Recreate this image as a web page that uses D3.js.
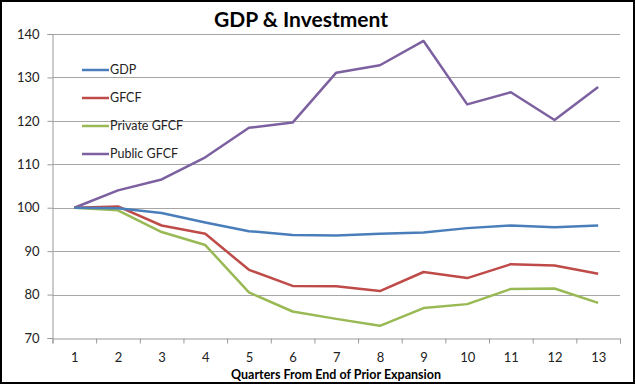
<!DOCTYPE html>
<html lang="en">
<head>
<meta charset="utf-8">
<title>GDP &amp; Investment</title>
<script src="https://cdn.jsdelivr.net/npm/d3@7"></script>
<style type="text/css">
body {
    margin: 0;
    background: #fff;
}
#chart text {
    font-family: Lato, "Open Sans", sans-serif;
}
</style>
</head>
<body>
<div id="chart"></div>
<script>
// quarters after the end of the prior expansion
var quarters = [1, 2, 3, 4, 5, 6, 7, 8, 9, 10, 11, 12, 13];

// series, indexed to 100 at quarter 1
var gdp        = [100, 99.9, 98.8, 96.6, 94.6, 93.7, 93.6, 94.0, 94.3, 95.3, 95.9, 95.5, 95.9];
var gfcf       = [100, 100.3, 95.9, 94.0, 85.7, 82.0, 81.9, 80.8, 85.2, 83.8, 87.0, 86.7, 84.8];
var privGfcf   = [100, 99.4, 94.4, 91.4, 80.5, 76.1, 74.4, 72.8, 76.9, 77.8, 81.3, 81.4, 78.1];
var pubGfcf    = [100, 104.0, 106.5, 111.6, 118.4, 119.6, 131.1, 132.8, 138.4, 123.8, 126.6, 120.2, 127.8];

var yTicks = [70, 80, 90, 100, 110, 120, 130, 140];

var series = [
  {name: "GDP",          values: gdp,      color: "#4a7ebb"},
  {name: "GFCF",         values: gfcf,     color: "#be4b48"},
  {name: "Private GFCF", values: privGfcf, color: "#98b954"},
  {name: "Public GFCF",  values: pubGfcf,  color: "#7d60a0"}
];

var W = 635, H = 385;
var margin = {top: 34, right: 15, bottom: 47, left: 52.5};

var svg = d3.select("#chart")
  .append("svg")
    .attr("width", W)
    .attr("height", H);

// outer frame
svg.append("rect")
  .attr("x", 1).attr("y", 1)
  .attr("width", W - 2).attr("height", H - 3)
  .attr("fill", "none")
  .attr("stroke", "#000")
  .attr("stroke-width", 2);

var x = d3.scaleLinear()
  .domain([0.5, 13.5])
  .range([margin.left, W - margin.right]);

var y = d3.scaleLinear()
  .domain([70, 140])
  .range([H - margin.bottom, margin.top]);

// gridlines
svg.append("g")
  .selectAll("line")
  .data(yTicks.slice(1))
  .enter()
  .append("line")
    .attr("x1", x(0.5))
    .attr("x2", x(13.5))
    .attr("y1", function(d) { return Math.round(y(d)) + 0.5; })
    .attr("y2", function(d) { return Math.round(y(d)) + 0.5; })
    .attr("stroke", "#a6a6a6")
    .attr("stroke-width", 1);

// y axis
var yAxis = svg.append("g")
  .attr("transform", "translate(" + margin.left + ",0)")
  .call(d3.axisLeft(y).tickValues(yTicks).tickSize(5).tickPadding(8));
yAxis.selectAll("line, path").attr("stroke", "#999");
yAxis.selectAll("text")
  .attr("font-size", 13)
  .attr("fill", "#222");

// x axis: ticks sit between categories, labels under them
var xBase = Math.round(y(70)) + 0.5;
var bounds = d3.range(0.5, 14, 1);
var xAxis = svg.append("g")
  .attr("transform", "translate(0," + xBase + ")")
  .call(d3.axisBottom(x).tickValues(bounds).tickSize(5).tickFormat(""));
xAxis.selectAll("line, path").attr("stroke", "#999");

var xLabels = svg.append("g")
  .attr("transform", "translate(0," + xBase + ")")
  .call(d3.axisBottom(x).tickValues(quarters).tickSize(0).tickPadding(14).tickFormat(d3.format("d")));
xLabels.select(".domain").remove();
xLabels.selectAll("text")
  .attr("font-size", 13)
  .attr("fill", "#222");

// lines
var line = d3.line()
  .x(function(d, i) { return x(quarters[i]); })
  .y(function(d) { return y(d); });

svg.append("g")
  .selectAll("path")
  .data(series.slice().reverse())
  .enter()
  .append("path")
    .attr("d", function(s) { return line(s.values); })
    .attr("fill", "none")
    .attr("stroke", function(s) { return s.color; })
    .attr("stroke-width", 2.5)
    .attr("stroke-linejoin", "round");

// legend
var legend = svg.append("g")
  .selectAll("g")
  .data(series)
  .enter()
  .append("g")
    .attr("transform", function(s, i) { return "translate(82," + (70 + i * 28) + ")"; });

legend.append("line")
  .attr("x1", 0).attr("x2", 27)
  .attr("stroke", function(s) { return s.color; })
  .attr("stroke-width", 2.5);

legend.append("text")
  .attr("x", 28)
  .attr("dy", "0.35em")
  .attr("font-size", 12.5)
  .attr("fill", "#222")
  .text(function(s) { return s.name; });

// titles
svg.append("text")
  .attr("x", 301)
  .attr("y", 27)
  .attr("text-anchor", "middle")
  .attr("font-size", 21)
  .attr("font-weight", "bold")
  .attr("fill", "#000")
  .text("GDP & Investment");

svg.append("text")
  .attr("x", 336)
  .attr("y", 379)
  .attr("text-anchor", "middle")
  .attr("font-size", 12.5)
  .attr("font-weight", "bold")
  .attr("fill", "#000")
  .text("Quarters From End of Prior Expansion");
</script>
</body>
</html>
